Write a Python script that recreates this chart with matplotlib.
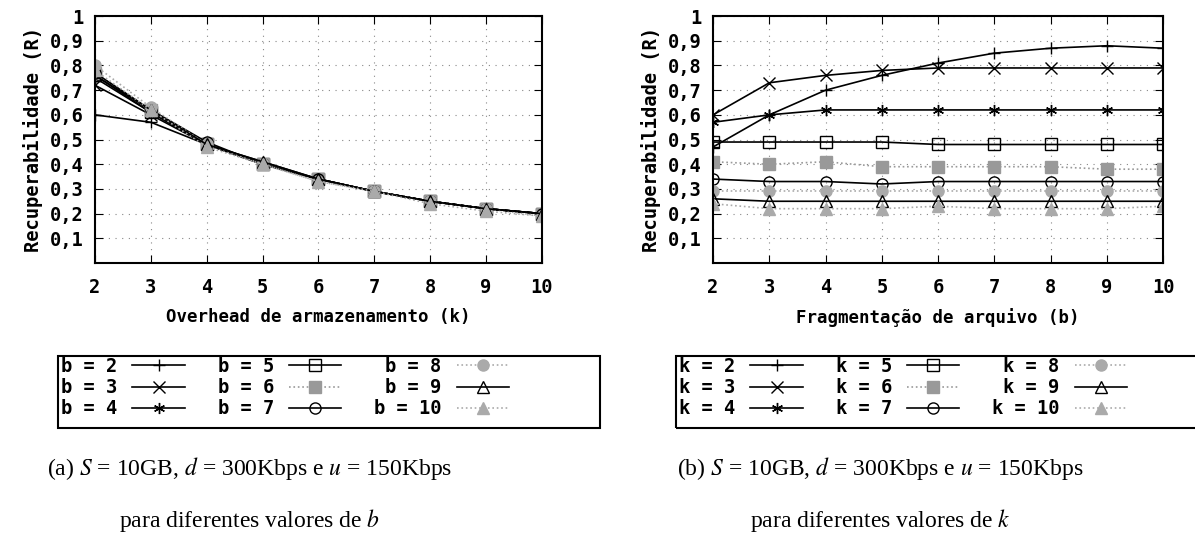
import matplotlib
matplotlib.use('Agg')
import matplotlib.pyplot as plt
from matplotlib.patches import Rectangle
import numpy as np

# painel (a): R em função de k, uma série por valor de b
k_vals = [2, 3, 4, 5, 6, 7, 8, 9, 10]
b_labels = ['b = 2', 'b = 3', 'b = 4', 'b = 5', 'b = 6', 'b = 7', 'b = 8', 'b = 9', 'b = 10']
r_b2 = [0.60, 0.57, 0.48, 0.40, 0.34, 0.29, 0.25, 0.22, 0.20]
r_b3 = [0.72, 0.60, 0.48, 0.40, 0.34, 0.29, 0.25, 0.22, 0.20]
r_b4 = [0.75, 0.61, 0.48, 0.41, 0.34, 0.29, 0.25, 0.22, 0.20]
r_b5 = [0.76, 0.61, 0.48, 0.40, 0.34, 0.29, 0.25, 0.22, 0.20]
r_b6 = [0.77, 0.62, 0.48, 0.40, 0.34, 0.29, 0.25, 0.22, 0.20]
r_b7 = [0.77, 0.62, 0.49, 0.40, 0.34, 0.29, 0.25, 0.22, 0.20]
r_b8 = [0.80, 0.63, 0.48, 0.40, 0.33, 0.29, 0.25, 0.22, 0.19]
r_b9 = [0.76, 0.62, 0.48, 0.41, 0.34, 0.29, 0.25, 0.22, 0.20]
r_b10 = [0.78, 0.62, 0.47, 0.40, 0.33, 0.29, 0.24, 0.21, 0.19]

# painel (b): R em função de b, uma série por valor de k
b_vals = [2, 3, 4, 5, 6, 7, 8, 9, 10]
k_labels = ['k = 2', 'k = 3', 'k = 4', 'k = 5', 'k = 6', 'k = 7', 'k = 8', 'k = 9', 'k = 10']
r_k2 = [0.47, 0.60, 0.70, 0.76, 0.81, 0.85, 0.87, 0.88, 0.87]
r_k3 = [0.60, 0.73, 0.76, 0.78, 0.79, 0.79, 0.79, 0.79, 0.79]
r_k4 = [0.57, 0.60, 0.62, 0.62, 0.62, 0.62, 0.62, 0.62, 0.62]
r_k5 = [0.49, 0.49, 0.49, 0.49, 0.48, 0.48, 0.48, 0.48, 0.48]
r_k6 = [0.41, 0.40, 0.41, 0.39, 0.39, 0.39, 0.39, 0.38, 0.38]
r_k7 = [0.34, 0.33, 0.33, 0.32, 0.33, 0.33, 0.33, 0.33, 0.33]
r_k8 = [0.29, 0.29, 0.29, 0.29, 0.29, 0.29, 0.29, 0.29, 0.29]
r_k9 = [0.26, 0.25, 0.25, 0.25, 0.25, 0.25, 0.25, 0.25, 0.25]
r_k10 = [0.24, 0.22, 0.22, 0.22, 0.23, 0.22, 0.22, 0.22, 0.23]

mono = 'DejaVu Sans Mono'
plt.rcParams['mathtext.fontset'] = 'stix'

styles = [
    dict(color='black', marker='+', ls='-'),
    dict(color='black', marker='x', ls='-'),
    dict(color='black', marker=(6, 2, 0), ls='-'),
    dict(color='black', marker='s', mfc='none', ls='-'),
    dict(color='#999999', marker='s', ls=':'),
    dict(color='black', marker='o', mfc='none', ls='-'),
    dict(color='#aaaaaa', marker='o', ls=':'),
    dict(color='black', marker='^', mfc='none', ls='-'),
    dict(color='#aaaaaa', marker='^', ls=':'),
]


def draw_panel(ax, x, series, labels, xlabel):
    for y, lab, st in zip(series, labels, styles):
        ax.plot(x, y, label=lab, lw=1.2, ms=8, mew=1.0, **st)
    ax.set_xlim(2, 10)
    ax.set_ylim(0, 1)
    ax.set_xticks(x)
    ax.set_yticks(np.arange(1, 11) / 10)
    ax.set_yticklabels(['0,%d' % i for i in range(1, 10)] + ['1'])
    ax.grid(True, color='#888888', ls=(0, (1, 5)), lw=0.8)
    ax.tick_params(direction='in', length=6, top=True, right=True,
                   labelsize=13.5, pad=8)
    ax.tick_params(axis='x', pad=11)
    for lab in ax.get_xticklabels() + ax.get_yticklabels():
        lab.set_family(mono)
        lab.set_weight('bold')
    for sp in ax.spines.values():
        sp.set_linewidth(1.5)
    ax.set_xlabel(xlabel, family=mono, weight='bold', fontsize=12.5, labelpad=8)
    ax.set_ylabel('Recuperabilidade (R)', family=mono, weight='bold',
                  fontsize=13.5, labelpad=5)


fig = plt.figure(figsize=(11.95, 5.56), dpi=100)
ax1 = fig.add_axes([0.0795, 0.527, 0.374, 0.444])
ax2 = fig.add_axes([0.5967, 0.527, 0.3766, 0.444])

draw_panel(ax1, k_vals, [r_b2, r_b3, r_b4, r_b5, r_b6, r_b7, r_b8, r_b9, r_b10],
           b_labels, 'Overhead de armazenamento (k)')
draw_panel(ax2, b_vals, [r_k2, r_k3, r_k4, r_k5, r_k6, r_k7, r_k8, r_k9, r_k10],
           k_labels, 'Fragmentação de arquivo (b)')

# legendas: moldura desenhada à parte, colunas compactas como no gnuplot
for ax, x0, x1 in [(ax1, 58, 600), (ax2, 676, 1200)]:
    y0, y1 = 356, 428
    fig.patches.append(Rectangle((x0 / 1195, 1 - y1 / 556), (x1 - x0) / 1195,
                                 (y1 - y0) / 556, transform=fig.transFigure,
                                 fill=False, lw=1.5, ec='black'))
    h, l = ax.get_legend_handles_labels()
    fig.legend(h, l, ncol=3, loc='upper left',
               bbox_to_anchor=((x0 + 3) / 1195, 1 - (y0 + 1) / 556),
               markerfirst=False, handlelength=2.8, frameon=False,
               borderaxespad=0, labelspacing=0.12, borderpad=0,
               columnspacing=1.75, handletextpad=0.8,
               prop=dict(family=mono, weight='bold', size=13.5))

cap = dict(family='Liberation Serif', fontsize=17, ha='center', va='center')
fig.text(0.209, 1 - 468 / 556, r'(a) $S$ = 10GB, $d$ = 300Kbps e $u$ = 150Kbps', **cap)
fig.text(0.209, 1 - 520 / 556, r'para diferentes valores de $b$', **cap)
fig.text(0.737, 1 - 468 / 556, r'(b) $S$ = 10GB, $d$ = 300Kbps e $u$ = 150Kbps', **cap)
fig.text(0.737, 1 - 520 / 556, r'para diferentes valores de $k$', **cap)

fig.savefig('out.png', dpi=100)
